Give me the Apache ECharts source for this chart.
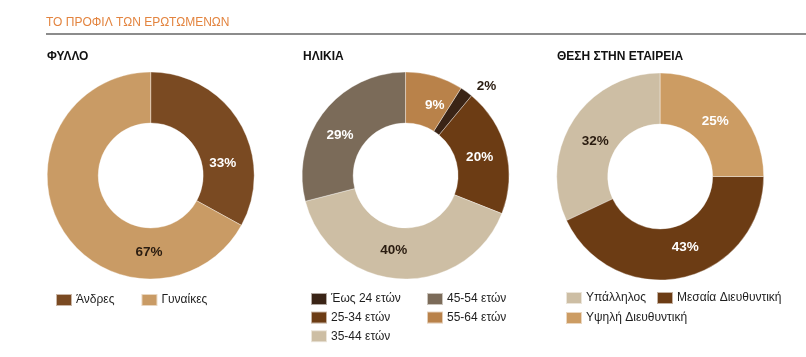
<!DOCTYPE html>
<html><head><meta charset="utf-8">
<script src="https://cdn.jsdelivr.net/npm/echarts@6/dist/echarts.min.js"></script>
<style>html,body{margin:0;padding:0;background:#fff}#c{width:806px;height:357px}</style>
</head><body><div id="c"></div>
<script>
var genderCats = ['Άνδρες', 'Γυναίκες'];
var genderVals = [33, 67];
var ageCats = ['Έως 24 ετών', '25-34 ετών', '35-44 ετών', '45-54 ετών', '55-64 ετών'];
var ageVals = [2, 20, 40, 29, 9];
var posCats = ['Υπάλληλος', 'Μεσαία Διευθυντική', 'Υψηλή Διευθυντική'];
var posVals = [32, 43, 25];

var FONT = '"Liberation Sans Narrow", "Liberation Sans", Arial, sans-serif';
var chart = echarts.init(document.getElementById('c'), null, {renderer: 'canvas'});

function mk(cats, vals) { return cats.map(function (c, i) { return {name: c, value: vals[i]}; }); }

// label placement (angle clockwise from top in degrees, distance from centre in px)
var centers = [[150.7, 175.5], [405.6, 175.5], [660.2, 176.5]];
var labelPolar = [
  [[80.5, 73], [181.3, 76.7]],
  [[42.1, 120.7], [76.3, 76.2], [189.1, 75.5], [301.7, 77], [22.4, 76.2]],
  [[298.3, 73.8], [160.6, 75.3], [44.7, 78.1]]
];
var labelColors = [
  ['#ffffff', '#2a1c10'],
  ['#2a1c10', '#ffffff', '#2a1c10', '#ffffff', '#ffffff'],
  ['#2a1c10', '#ffffff', '#ffffff']
];

function layoutFn(si) {
  return function (p) {
    var lp = labelPolar[si][p.dataIndex];
    var a = lp[0] * Math.PI / 180;
    return {
      x: centers[si][0] + lp[1] * Math.sin(a),
      y: centers[si][1] - lp[1] * Math.cos(a),
      align: 'center', verticalAlign: 'middle'
    };
  };
}

function pie(si, cats, vals, colors, startAngle, clockwise) {
  return {
    type: 'pie',
    center: centers[si],
    radius: [52.5, 103.5],
    startAngle: startAngle,
    clockwise: clockwise,
    avoidLabelOverlap: false,
    silent: true,
    animation: false,
    data: mk(cats, vals).map(function (d, i) {
      d.itemStyle = {color: colors[i]};
      d.label = {color: labelColors[si][i]};
      return d;
    }),
    itemStyle: {borderColor: 'rgba(255,255,255,0.6)', borderWidth: 0.6},
    label: {
      show: true, position: 'inside',
      formatter: '{c}%',
      fontFamily: FONT, fontWeight: 'bold', fontSize: 13.5
    },
    labelLine: {show: false},
    labelLayout: layoutFn(si)
  };
}

var legendBase = {
  icon: 'rect', itemWidth: 16, itemHeight: 12, selectedMode: false,
  textStyle: {fontFamily: FONT, fontSize: 12, lineHeight: 12, color: '#1e1e1e', padding: [0, 0, 0, -1]},
  padding: 0
};
function legend(extra) { return Object.assign({}, legendBase, extra); }

chart.setOption({
  backgroundColor: '#ffffff',
  animation: false,
  title: [
    {text: 'ΤΟ ΠΡΟΦΙΛ ΤΩΝ ΕΡΩΤΩΜΕΝΩΝ', left: 46, top: 17, padding: 0,
     textStyle: {fontFamily: FONT, fontSize: 12, fontWeight: 'normal', color: '#e3843f'}},
    {text: 'ΦΥΛΛΟ', left: 47, top: 51, padding: 0,
     textStyle: {fontFamily: FONT, fontSize: 12, fontWeight: 'bold', color: '#111'}},
    {text: 'ΗΛΙΚΙΑ', left: 303, top: 51, padding: 0,
     textStyle: {fontFamily: FONT, fontSize: 12, fontWeight: 'bold', color: '#111'}},
    {text: 'ΘΕΣΗ ΣΤΗΝ ΕΤΑΙΡΕΙΑ', left: 557, top: 51, padding: 0,
     textStyle: {fontFamily: FONT, fontSize: 12, fontWeight: 'bold', color: '#111'}}
  ],
  graphic: [
    {type: 'line', shape: {x1: 46, y1: 34, x2: 806, y2: 34}, style: {stroke: '#1a1a1a', lineWidth: 1.2}}
  ],
  legend: [
    legend({data: genderCats, left: 55, top: 293, orient: 'horizontal', itemGap: 26}),
    legend({data: ageCats.slice(0, 3), left: 310, top: 292, orient: 'vertical', itemGap: 4.6}),
    legend({data: ageCats.slice(3), left: 426, top: 292, orient: 'vertical', itemGap: 4.6}),
    legend({data: posCats.slice(0, 2), left: 565, top: 291, orient: 'horizontal', itemGap: 10}),
    legend({data: posCats.slice(2), left: 565, top: 311, orient: 'horizontal'})
  ],
  series: [
    pie(0, genderCats, genderVals, ['#7a4a22', '#c99b65'], 90, true),
    pie(1, ageCats, ageVals, ['#3a2416', '#6c3c14', '#cdbea4', '#7b6b59', '#b9824a'], 57.6, true),
    pie(2, posCats, posVals, ['#cdbea4', '#6c3c14', '#cc9c63'], 90, false)
  ]
});
</script></body></html>
